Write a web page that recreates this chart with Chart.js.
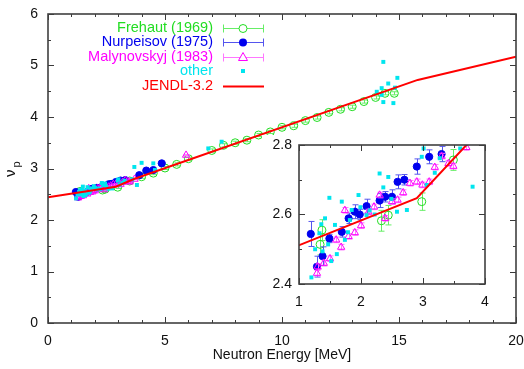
<!DOCTYPE html>
<html>
<head>
<meta charset="utf-8">
<script src="https://cdn.jsdelivr.net/npm/chart.js@4.4.0/dist/chart.umd.min.js"></script>
<style>
  html, body { margin: 0; padding: 0; background: #fff; }
  #wrap { position: relative; width: 524px; height: 369px; }
  #mainChart { position: absolute; left: 0; top: 0; }
  #insetChart { position: absolute; left: 262px; top: 135px; background: #fff; }
</style>
</head>
<body>
<div id="wrap">
  <canvas id="mainChart" width="524" height="369"></canvas>
  <canvas id="insetChart" width="230" height="173"></canvas>
</div>
<script>
// ==================== DATA ====================
const jendlE  = [0, 2.9, 3.7, 15.8, 20];
const jendlNu = [2.44, 2.647, 2.80, 4.72, 5.17];

const frehautE   = [1.34, 1.37, 2.33, 2.44, 2.98, 3.49, 4.0, 4.5, 5.0, 5.5, 6.0, 7.0, 7.5, 8.0, 8.5, 9.0, 9.5, 10.0, 10.5, 11.0, 11.5, 12.0, 12.5, 13.0, 13.5, 14.0, 14.4, 14.8];
const frehautNu  = [2.514, 2.555, 2.582, 2.598, 2.637, 2.757, 2.84, 2.91, 3.01, 3.08, 3.19, 3.35, 3.45, 3.50, 3.55, 3.65, 3.71, 3.80, 3.83, 3.93, 3.99, 4.09, 4.15, 4.20, 4.30, 4.38, 4.46, 4.46];
const frehautErr = [0.03, 0.03, 0.03, 0.028, 0.025, 0.03, 0.03, 0.03, 0.03, 0.03, 0.03, 0.03, 0.03, 0.03, 0.03, 0.03, 0.03, 0.03, 0.03, 0.03, 0.03, 0.03, 0.03, 0.03, 0.03, 0.03, 0.03, 0.03];

const nurpeisovE   = [1.19, 1.29, 1.38, 1.49, 1.69, 1.80, 1.90, 1.98, 2.09, 2.30, 2.39, 2.50, 2.59, 2.70, 2.90, 3.10, 3.30, 3.9, 4.2, 4.5, 4.86];
const nurpeisovNu  = [2.544, 2.45, 2.48, 2.531, 2.55, 2.589, 2.608, 2.60, 2.624, 2.64, 2.651, 2.651, 2.694, 2.70, 2.738, 2.766, 2.774, 2.87, 2.96, 2.97, 3.10];
const nurpeisovErr = [0.036, 0.03, 0.027, 0.012, 0.015, 0.015, 0.02, 0.015, 0.02, 0.02, 0.015, 0.02, 0.02, 0.015, 0.022, 0.02, 0.022, 0.02, 0.02, 0.02, 0.02];

const malynE   = [1.29, 1.30, 1.40, 1.50, 1.60, 1.68, 1.74, 1.80, 1.90, 2.0, 2.12, 2.21, 2.30, 2.39, 2.50, 2.59, 2.68, 2.79, 2.90, 2.99, 3.10, 3.19, 3.30, 3.41, 3.49, 3.70, 5.9];
const malynNu  = [2.431, 2.45, 2.46, 2.473, 2.527, 2.506, 2.612, 2.537, 2.548, 2.568, 2.607, 2.622, 2.656, 2.589, 2.637, 2.642, 2.663, 2.69, 2.694, 2.685, 2.694, 2.736, 2.768, 2.747, 2.739, 2.793, 3.26];
const malynErr = [0.008, 0.008, 0.008, 0.008, 0.008, 0.008, 0.008, 0.008, 0.008, 0.008, 0.008, 0.008, 0.008, 0.008, 0.008, 0.008, 0.008, 0.008, 0.008, 0.008, 0.008, 0.008, 0.008, 0.008, 0.008, 0.008, 0.008];

const otherE  = [1.20, 1.26, 1.33, 1.36, 1.38, 1.42, 1.47, 1.49, 1.52, 1.58, 1.61, 1.69, 1.74, 1.79, 1.82, 1.85, 1.96, 1.99, 2.09, 2.14, 2.22, 2.30, 2.36, 2.44, 2.49, 2.58, 2.74, 2.98, 3.01, 3.06, 3.19, 3.27, 3.60, 3.80, 3.69, 4.0, 4.5, 4.57, 6.85, 7.42, 14.05, 14.26, 14.26, 14.33, 14.33, 14.54, 14.76, 14.83, 14.93];
const otherNu = [2.419, 2.500, 2.546, 2.572, 2.494, 2.589, 2.514, 2.648, 2.466, 2.570, 2.486, 2.637, 2.527, 2.549, 2.584, 2.613, 2.656, 2.621, 2.598, 2.612, 2.600, 2.718, 2.678, 2.708, 2.645, 2.608, 2.613, 2.766, 2.790, 2.685, 2.720, 2.762, 2.790, 2.680, 3.03, 3.11, 3.10, 2.97, 3.39, 3.52, 4.49, 4.56, 4.43, 5.07, 4.29, 4.65, 4.27, 4.57, 4.76];

// ==================== STYLE ====================
const FONT = "'Liberation Sans', Arial, sans-serif";
const COLORS = {
    frehaut: '#22dd22', frehautBar: '#66ee66',
    nurpeisov: '#0000ee', nurpeisovBar: '#5555ee',
    malyn: '#ff00ff', malynBar: '#ff77ff',
    other: '#00e5ee',
    jendl: '#ff0000'
};

const pts = (xs, ys) => xs.map((x, i) => ({ x: x, y: ys[i] }));

function buildDatasets() {
    // first dataset is drawn last (on top) in Chart.js
    return [
        {
            type: 'line', label: 'JENDL-3.2', data: pts(jendlE, jendlNu),
            borderColor: COLORS.jendl, borderWidth: 2, pointRadius: 0, tension: 0, fill: false
        },
        {
            label: 'other', data: pts(otherE, otherNu),
            pointStyle: 'rect', pointRadius: 2.8, backgroundColor: COLORS.other, borderWidth: 0
        },
        {
            label: 'Malynovskyj (1983)', data: pts(malynE, malynNu), yErr: malynErr, barColor: COLORS.malynBar,
            pointStyle: 'triangle', pointRadius: 4.2, backgroundColor: 'rgba(0,0,0,0)',
            borderColor: COLORS.malyn, borderWidth: 1
        },
        {
            label: 'Nurpeisov (1975)', data: pts(nurpeisovE, nurpeisovNu), yErr: nurpeisovErr, barColor: COLORS.nurpeisovBar,
            pointStyle: 'circle', pointRadius: 3.6, backgroundColor: COLORS.nurpeisov,
            borderColor: COLORS.nurpeisov, borderWidth: 1
        },
        {
            label: 'Frehaut (1969)', data: pts(frehautE, frehautNu), yErr: frehautErr, barColor: COLORS.frehautBar,
            pointStyle: 'circle', pointRadius: 4, backgroundColor: 'rgba(0,0,0,0)',
            borderColor: COLORS.frehaut, borderWidth: 1
        }
    ];
}

// ==================== PLUGINS ====================
const errorBars = {
    id: 'errorBars',
    beforeDatasetDraw(chart, args) {
        const ds = chart.data.datasets[args.index];
        if (!ds.yErr) return;
        const { ctx, chartArea: a, scales: { x, y } } = chart;
        ctx.save();
        ctx.beginPath();
        ctx.rect(a.left, a.top, a.right - a.left, a.bottom - a.top);
        ctx.clip();
        ctx.strokeStyle = ds.barColor;
        ctx.lineWidth = 1;
        ds.data.forEach((p, i) => {
            const px = Math.round(x.getPixelForValue(p.x)) + 0.5;
            const y1 = y.getPixelForValue(p.y - ds.yErr[i]);
            const y2 = y.getPixelForValue(p.y + ds.yErr[i]);
            ctx.beginPath();
            ctx.moveTo(px, y1); ctx.lineTo(px, y2);
            ctx.moveTo(px - 3, y1); ctx.lineTo(px + 3, y1);
            ctx.moveTo(px - 3, y2); ctx.lineTo(px + 3, y2);
            ctx.stroke();
        });
        ctx.restore();
    }
};

// gnuplot-like frame with inward ticks on all four sides
const frameTicks = {
    id: 'frameTicks',
    afterDraw(chart, args, opts) {
        const { ctx, chartArea: a, scales: { x, y } } = chart;
        ctx.save();
        ctx.strokeStyle = '#3a3a3a';
        ctx.lineWidth = 1;
        ctx.beginPath();
        const nx = Math.round((x.max - x.min) / opts.xMinor);
        for (let i = 0; i <= nx; i++) {
            const v = x.min + i * opts.xMinor;
            const len = i % opts.xEvery === 0 ? 6 : 3;
            const px = Math.round(x.getPixelForValue(v)) + 0.5;
            ctx.moveTo(px, a.bottom); ctx.lineTo(px, a.bottom - len);
            ctx.moveTo(px, a.top); ctx.lineTo(px, a.top + len);
        }
        const ny = Math.round((y.max - y.min) / opts.yMinor);
        for (let i = 0; i <= ny; i++) {
            const v = y.min + i * opts.yMinor;
            const len = i % opts.yEvery === 0 ? 6 : 3;
            const py = Math.round(y.getPixelForValue(v)) + 0.5;
            ctx.moveTo(a.left, py); ctx.lineTo(a.left + len, py);
            ctx.moveTo(a.right, py); ctx.lineTo(a.right - len, py);
        }
        ctx.stroke();
        ctx.lineWidth = 1.6;
        ctx.strokeStyle = '#404040';
        ctx.strokeRect(a.left, a.top, a.right - a.left, a.bottom - a.top);
        ctx.restore();
    }
};

const legendRows = [
    { text: 'Frehaut (1969)', color: COLORS.frehaut, bar: COLORS.frehautBar, kind: 'openCircle' },
    { text: 'Nurpeisov (1975)', color: COLORS.nurpeisov, bar: COLORS.nurpeisovBar, kind: 'filledCircle' },
    { text: 'Malynovskyj (1983)', color: COLORS.malyn, bar: COLORS.malynBar, kind: 'triangle' },
    { text: 'other', color: COLORS.other, kind: 'square' },
    { text: 'JENDL-3.2', color: COLORS.jendl, kind: 'line' }
];

const gnuLegend = {
    id: 'gnuLegend',
    afterDraw(chart) {
        const { ctx } = chart;
        ctx.save();
        ctx.font = '14.5px ' + FONT;
        ctx.textAlign = 'right';
        ctx.textBaseline = 'middle';
        const x0 = 223, x1 = 264, xm = 243;
        legendRows.forEach((r, i) => {
            const yy = 28 + i * 14.4;
            ctx.fillStyle = r.color;
            ctx.fillText(r.text, 213, yy);
            const py = Math.round(yy) + 0.5;
            if (r.kind === 'line') {
                ctx.strokeStyle = r.color; ctx.lineWidth = 2;
                ctx.beginPath(); ctx.moveTo(x0, py); ctx.lineTo(x1, py); ctx.stroke();
            } else if (r.kind === 'square') {
                ctx.fillRect(xm - 2, py - 2.5, 4, 4);
            } else {
                ctx.strokeStyle = r.bar; ctx.lineWidth = 1;
                ctx.beginPath();
                ctx.moveTo(x0, py); ctx.lineTo(x1, py);
                ctx.moveTo(x0 + 0.5, py - 4); ctx.lineTo(x0 + 0.5, py + 4);
                ctx.moveTo(x1 - 0.5, py - 4); ctx.lineTo(x1 - 0.5, py + 4);
                ctx.stroke();
                ctx.strokeStyle = r.color;
                ctx.fillStyle = r.color;
                ctx.beginPath();
                if (r.kind === 'triangle') {
                    ctx.moveTo(xm, py - 5); ctx.lineTo(xm + 4.5, py + 3); ctx.lineTo(xm - 4.5, py + 3); ctx.closePath();
                    ctx.fillStyle = '#fff'; ctx.fill(); ctx.stroke();
                } else {
                    ctx.arc(xm, py, 4, 0, Math.PI * 2);
                    if (r.kind === 'filledCircle') ctx.fill();
                    else { ctx.fillStyle = '#fff'; ctx.fill(); ctx.stroke(); }
                }
            }
        });
        ctx.restore();
    }
};

// y title: nu with subscript p, rotated
const nuTitle = {
    id: 'nuTitle',
    afterDraw(chart) {
        const { ctx } = chart;
        ctx.save();
        ctx.translate(11, 177);
        ctx.rotate(-Math.PI / 2);
        ctx.fillStyle = '#111';
        ctx.textAlign = 'left';
        ctx.textBaseline = 'middle';
        ctx.font = '15px ' + FONT;
        ctx.fillText('ν', 0, 0);
        ctx.font = '11px ' + FONT;
        ctx.fillText('p', 9.5, 6);
        ctx.restore();
    }
};

// ==================== CHARTS ====================
Chart.defaults.font.family = FONT;
Chart.defaults.font.size = 14;
Chart.defaults.color = '#111';

// fixed axis band; label overflow padding switched off so layout.padding sets the plot box
function fixX(h) {
    return s => { s.height = h; s.paddingLeft = 0; s.paddingRight = 0; };
}
function fixY(w) {
    return s => { s.width = w; s.paddingTop = 0; s.paddingBottom = 0; };
}

function axis(min, max, step, extra) {
    return Object.assign({
        type: 'linear', min: min, max: max,
        grid: { display: false, drawTicks: false },
        border: { display: false },
        ticks: { stepSize: step, color: '#111', font: { size: 14 }, padding: 10 }
    }, extra);
}

new Chart(document.getElementById('mainChart').getContext('2d'), {
    type: 'scatter',
    data: { datasets: buildDatasets() },
    options: {
        responsive: false,
        animation: false,
        layout: { padding: { top: 14, right: 8, left: 0, bottom: 0 } },
        plugins: {
            legend: { display: false },
            tooltip: { enabled: false },
            frameTicks: { xMinor: 1, xEvery: 5, yMinor: 0.5, yEvery: 2 }
        },
        scales: {
            x: axis(0, 20, 5, {
                afterFit: fixX(46),
                title: { display: true, text: 'Neutron Energy [MeV]', color: '#111', font: { size: 14 }, padding: { top: 0, bottom: 5 } }
            }),
            y: axis(0, 6, 1, { afterFit: fixY(48) })
        }
    },
    plugins: [errorBars, frameTicks, gnuLegend, nuTitle]
});

new Chart(document.getElementById('insetChart').getContext('2d'), {
    type: 'scatter',
    data: { datasets: buildDatasets() },
    options: {
        responsive: false,
        animation: false,
        layout: { padding: { top: 10, right: 7, left: 0, bottom: 0 } },
        plugins: {
            legend: { display: false },
            tooltip: { enabled: false },
            frameTicks: { xMinor: 0.5, xEvery: 2, yMinor: 0.1, yEvery: 2 }
        },
        scales: {
            x: axis(1, 4, 1, { afterFit: fixX(24) }),
            y: axis(2.4, 2.8, 0.2, {
                afterFit: fixY(37),
                ticks: { stepSize: 0.2, color: '#111', font: { size: 14 }, padding: 7, callback: v => v.toFixed(1) }
            })
        }
    },
    plugins: [errorBars, frameTicks]
});
</script>
</body>
</html>
